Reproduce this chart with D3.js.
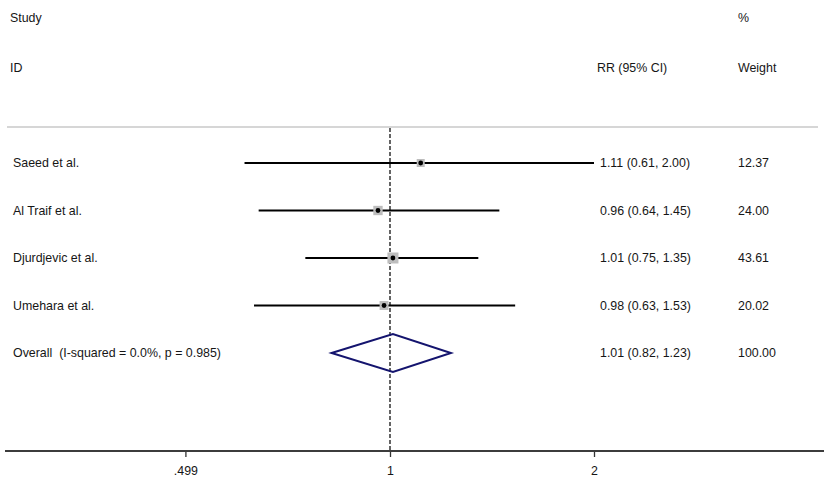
<!DOCTYPE html>
<html><head><meta charset="utf-8">
<script src="https://cdn.jsdelivr.net/npm/d3@7"></script>
<style>body{margin:0;background:#fff}svg{display:block}text{font-family:"Liberation Sans",Arial,sans-serif;font-size:12.4px;fill:#161616;white-space:pre}</style>
</head><body><div id="chart"></div>
<script>
const studies = ["Saeed et al.", "Al Traif et al.", "Djurdjevic et al.", "Umehara et al."];
const rr = [1.11, 0.96, 1.01, 0.98];
const lower = [0.61, 0.64, 0.75, 0.63];
const upper = [2.00, 1.45, 1.35, 1.53];
const weights = [12.37, 24.00, 43.61, 20.02];
const overallLabel = "Overall  (I-squared = 0.0%, p = 0.985)";
const overall = {rr: 1.01, lo: 0.82, hi: 1.23, w: 100.00};
const tickValues = [0.499, 1, 2];
const tickLabels = [".499", "1", "2"];

const W = 829, H = 491;
const svg = d3.select("#chart").append("svg").attr("width", W).attr("height", H);

const x = d3.scaleLog().domain([0.5, 2]).range([390 - 204, 594]);
const rows = studies.map((s, i) => i);
const y = d3.scalePoint().domain([0,1,2,3,4]).range([163, 353]);

const fmt = d3.format(".2f");

// headers
svg.append("text").attr("x", 10).attr("y", 22).text("Study");
svg.append("text").attr("x", 10).attr("y", 72).text("ID");
svg.append("text").attr("x", 597).attr("y", 72).text("RR (95% CI)");
svg.append("text").attr("x", 738).attr("y", 22).text("%");
svg.append("text").attr("x", 738).attr("y", 72).text("Weight");

// top rule
svg.append("line").attr("x1", 7).attr("x2", 818).attr("y1", 127).attr("y2", 127)
  .attr("stroke", "#c8c8c8").attr("stroke-width", 1.5);

// null line
svg.append("line").attr("x1", x(1)).attr("x2", x(1)).attr("y1", 128).attr("y2", 451)
  .attr("stroke", "#111").attr("stroke-width", 1.3).attr("stroke-dasharray", "4,2");

// CI lines
svg.selectAll(".ci").data(rows).enter().append("line")
  .attr("x1", i => x(lower[i])).attr("x2", i => x(upper[i]))
  .attr("y1", i => y(i)).attr("y2", i => y(i))
  .attr("stroke", "#000").attr("stroke-width", 2);

// weight boxes
const boxScale = d3.scaleLinear().domain([Math.sqrt(12.37), Math.sqrt(43.61)]).range([8, 11]);
const side = i => boxScale(Math.sqrt(weights[i]));
svg.selectAll(".box").data(rows).enter().append("rect")
  .attr("x", i => x(rr[i]) - side(i) / 2)
  .attr("y", i => y(i) - side(i) / 2)
  .attr("width", side)
  .attr("height", side)
  .attr("fill", "#bdbdbd");

// point estimates
svg.selectAll(".pt").data(rows).enter().append("circle")
  .attr("cx", i => x(rr[i])).attr("cy", i => y(i)).attr("r", 2.4).attr("fill", "#000");

// diamond
const yo = y(4);
svg.append("path")
  .attr("d", `M${x(overall.lo)},${yo} L${x(overall.rr)},${yo - 19} L${x(overall.hi)},${yo} L${x(overall.rr)},${yo + 19} Z`)
  .attr("fill", "none").attr("stroke", "#14146e").attr("stroke-width", 2);

// row labels
svg.selectAll(".lab").data(rows).enter().append("text")
  .attr("x", 13).attr("y", i => y(i) + 4).text(i => studies[i]);
svg.append("text").attr("x", 13).attr("y", yo + 4).text(overallLabel);

// estimates text
svg.selectAll(".est").data(rows).enter().append("text")
  .attr("x", 600).attr("y", i => y(i) + 4)
  .text(i => `${fmt(rr[i])} (${fmt(lower[i])}, ${fmt(upper[i])})`);
svg.append("text").attr("x", 600).attr("y", yo + 4)
  .text(`${fmt(overall.rr)} (${fmt(overall.lo)}, ${fmt(overall.hi)})`);

// weights text
svg.selectAll(".wt").data(rows).enter().append("text")
  .attr("x", 738).attr("y", i => y(i) + 4).text(i => fmt(weights[i]));
svg.append("text").attr("x", 738).attr("y", yo + 4).text(fmt(overall.w));

// axis
const axis = d3.axisBottom(x).tickValues(tickValues).tickFormat((d, i) => tickLabels[i]).tickSize(6).tickPadding(9);
const ag = svg.append("g").attr("transform", "translate(0,451)").call(axis);
ag.select(".domain").remove();
ag.selectAll(".tick line").attr("stroke", "#333").attr("stroke-width", 1.3);
ag.selectAll(".tick text").style("font-family", '"Liberation Sans",Arial,sans-serif').style("font-size", "12.4px").attr("fill", "#161616");
svg.append("line").attr("x1", 5).attr("x2", 824).attr("y1", 451).attr("y2", 451)
  .attr("stroke", "#3c3c3c").attr("stroke-width", 2);
</script></body></html>
